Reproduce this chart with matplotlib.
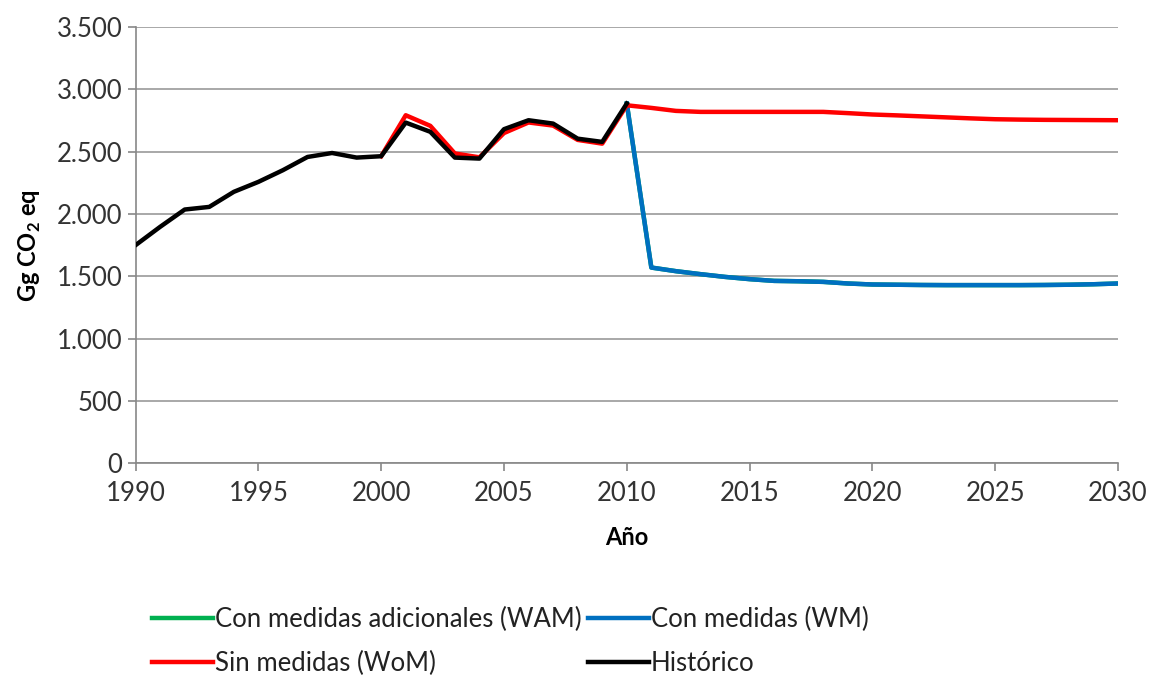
import matplotlib.pyplot as plt
from matplotlib.ticker import FuncFormatter, MultipleLocator

plt.rcParams['font.family'] = ['Lato', 'DejaVu Sans']

# historic emissions (Gg CO2 eq)
years_hist = list(range(1990, 2011))
historico = [1750, 1897, 2036, 2057, 2178, 2258, 2352, 2458, 2490, 2453, 2464,
             2734, 2660, 2453, 2445, 2681, 2753, 2726, 2605, 2579, 2887]

# scenario "sin medidas" (WoM), 2000-2030
years_wom = list(range(2000, 2031))
wom = [2464, 2793, 2708, 2486, 2455, 2650, 2735, 2710, 2595, 2565, 2873,
       2852, 2828, 2820, 2820, 2820, 2820, 2820, 2820, 2810, 2799,
       2792, 2784, 2776, 2768, 2761, 2758, 2756, 2755, 2754, 2753]

# scenarios with measures, 2010-2030
years_proj = list(range(2010, 2031))
wm = [2887, 1570, 1541, 1517, 1495, 1477, 1463, 1460, 1455, 1442, 1434,
      1432, 1430, 1429, 1429, 1429, 1429, 1430, 1432, 1436, 1442]
wam = [2887, 1570, 1541, 1517, 1495, 1477, 1463, 1460, 1455, 1442, 1434,
       1432, 1430, 1429, 1429, 1429, 1429, 1430, 1432, 1436, 1442]

fig = plt.figure(figsize=(11.49, 6.8), dpi=100)
ax = fig.add_axes([0.118, 0.319, 0.855, 0.641])

l_wam, = ax.plot(years_proj, wam, color="#00B050", lw=3.2, zorder=2)
l_wm, = ax.plot(years_proj, wm, color="#0070C0", lw=3.2, zorder=3)
l_wom, = ax.plot(years_wom, wom, color="#FF0000", lw=3.2, zorder=3)
l_hist, = ax.plot(years_hist, historico, color="black", lw=3.2, zorder=4)

ax.set_xlim(1990, 2030)
ax.set_ylim(0, 3500)
ax.xaxis.set_major_locator(MultipleLocator(5))
ax.yaxis.set_major_locator(MultipleLocator(500))
ax.yaxis.set_major_formatter(FuncFormatter(lambda v, p: "{:,.0f}".format(v).replace(",", ".")))
ax.grid(axis="y", color="#999999", lw=1.2)
ax.set_axisbelow(True)
for side in ("top", "right"):
	ax.spines[side].set_visible(False)
for side in ("left", "bottom"):
	ax.spines[side].set_color("#888888")
	ax.spines[side].set_linewidth(1.2)
ax.tick_params(axis="both", labelsize=18.5, labelcolor="#333333", color="#888888", length=6, width=1.2)
ax.tick_params(axis="x", pad=7)
ax.set_xlabel("Año", fontsize=17, fontweight="bold", labelpad=14)
ax.set_ylabel("Gg CO$_\\mathregular{2}$ eq", fontsize=17, fontweight="bold", labelpad=10)

# legend: row order WAM, WM / WoM, Histórico
fig.legend([l_wam, l_wom, l_wm, l_hist],
	["Con medidas adicionales (WAM)", "Sin medidas (WoM)", "Con medidas (WM)", "Histórico"],
	loc="upper left", bbox_to_anchor=(0.112, 0.142), ncol=2, frameon=False,
	fontsize=18.5, handlelength=2.4, handletextpad=0.05, columnspacing=0.25, labelspacing=0.75,
	labelcolor="#222222")

fig.savefig("out.png", dpi=100)
plt.close(fig)
